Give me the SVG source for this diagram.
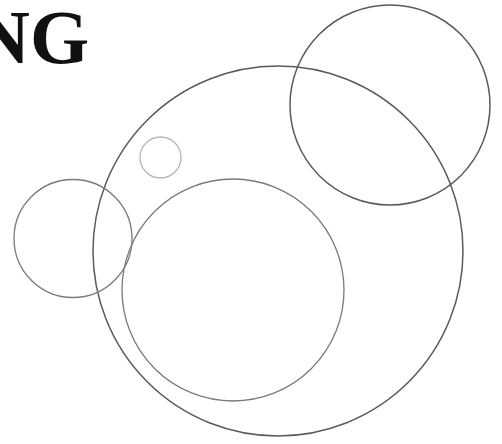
<svg xmlns="http://www.w3.org/2000/svg" width="502" height="444" viewBox="0 0 502 444">
<style>
.c{fill:none;stroke:#5a5a5a;stroke-width:1.5}
.l{fill:none;stroke:#7a7a7a;stroke-width:1.3}
.s{fill:none;stroke:#b4b4c4;stroke-width:1.3}
.t{font-family:"Liberation Serif",serif;font-weight:bold;font-size:76px;fill:#111}
</style>
<rect width="502" height="444" fill="#fff"/>
<text class="t" x="-25" y="63">NG</text>
<g id="big"><circle class="c" cx="278" cy="251" r="185"/></g>
<g id="topright"><circle class="c" cx="390" cy="105" r="100"/></g>
<g id="small"><circle class="s" cx="160.5" cy="157.5" r="20.5"/></g>
<g id="left"><circle class="l" cx="73" cy="238.5" r="59"/></g>
<g id="middle"><circle class="l" cx="233" cy="290" r="111"/></g>
</svg>
